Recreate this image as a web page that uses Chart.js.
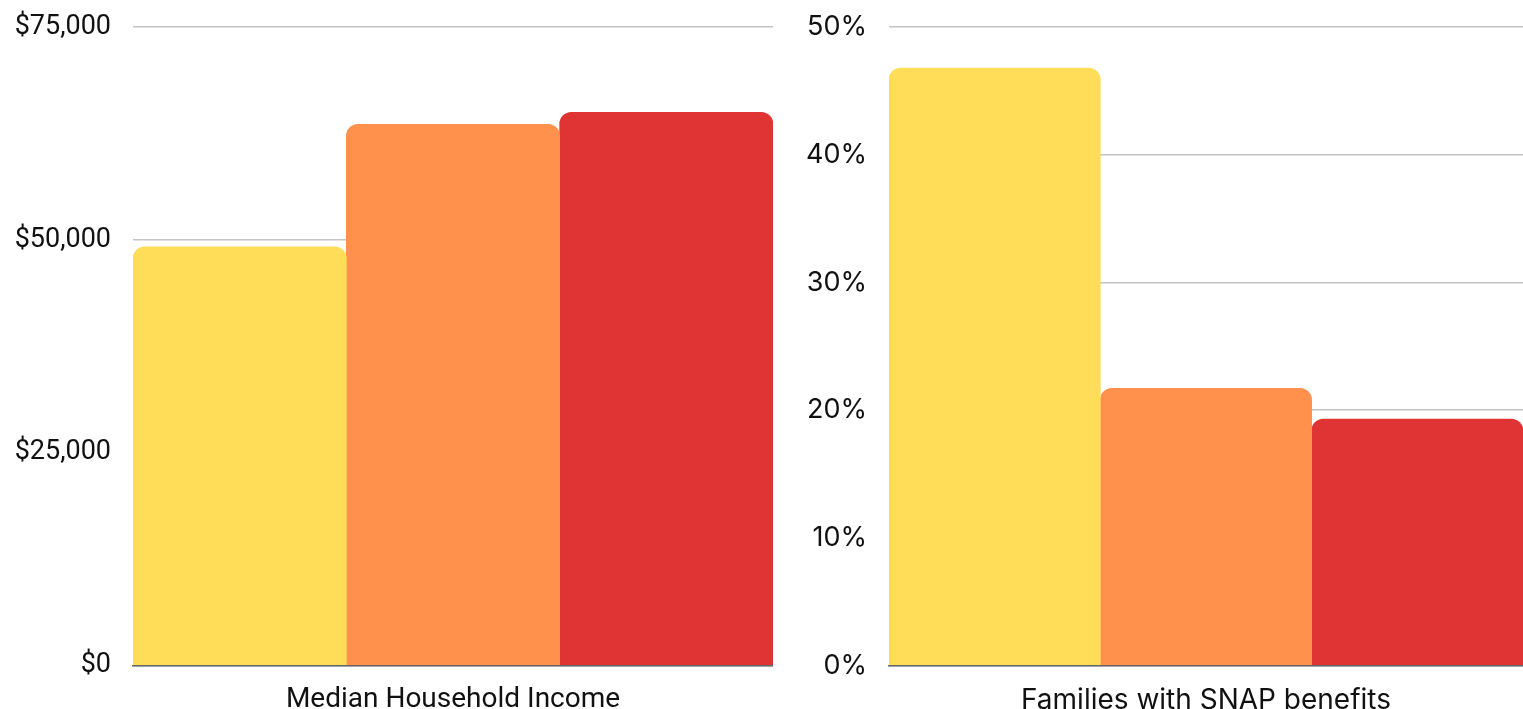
<!DOCTYPE html>
<html>
<head>
<meta charset="utf-8">
<script src="https://cdn.jsdelivr.net/npm/chart.js@4/dist/chart.umd.min.js"></script>
<style>
  html, body { margin: 0; padding: 0; background: #fff; overflow: hidden; width: 1523px; height: 709px; }
  .box { position: absolute; top: -11px; height: 738px; }
  #leftBox { left: 0; width: 773px; }
  #rightBox { left: 775px; width: 748px; }
</style>
</head>
<body>
<div class="box" id="leftBox"><canvas id="incomeChart"></canvas></div>
<div class="box" id="rightBox"><canvas id="snapChart"></canvas></div>
<script>
const incomeCategories = ["Median Household Income"];
const snapCategories = ["Families with SNAP benefits"];
const groupNames = ["Area 1", "Area 2", "Area 3"];
const groupColors = ["#FFDD59", "#FF914D", "#E03434"];
const incomeValues = [49200, 63600, 65000];
const snapValues = [46.8, 21.7, 19.3];
const incomeTicks = [0, 25000, 50000, 75000];
const snapTicks = [0, 10, 20, 30, 40, 50];

function makeDatasets(values) {
    return values.map((v, i) => ({
        label: groupNames[i],
        data: [v],
        backgroundColor: groupColors[i],
        borderWidth: 0,
        borderSkipped: 'bottom',
        borderRadius: { topLeft: 12, topRight: 12, bottomLeft: 0, bottomRight: 0 },
        barPercentage: 1,
        categoryPercentage: 1
    }));
}

function makeChart(id, labels, values, ticks, fmt, family, axisWidth) {
    const ctx = document.getElementById(id).getContext('2d');
    return new Chart(ctx, {
        type: 'bar',
        data: { labels: labels, datasets: makeDatasets(values) },
        options: {
            responsive: true,
            maintainAspectRatio: false,
            animation: false,
            layout: { padding: 0 },
            plugins: { legend: { display: false }, tooltip: { enabled: false } },
            scales: {
                x: {
                    grid: { display: false },
                    border: { display: true, color: '#666666', width: 1.5 },
                    ticks: { color: '#111111', padding: 10, font: { family: family, size: 28 } }
                },
                y: {
                    min: ticks[0],
                    max: ticks[ticks.length - 1],
                    afterBuildTicks: (axis) => { axis.ticks = ticks.map(v => ({ value: v })); },
                    afterFit: (axis) => { axis.width = axisWidth; },
                    grid: { color: '#c4c4c4', lineWidth: 1.5, drawTicks: false },
                    border: { display: false },
                    ticks: {
                        color: '#111111',
                        padding: 22,
                        font: { family: family, size: 27 },
                        callback: fmt
                    }
                }
            }
        }
    });
}

makeChart('incomeChart', incomeCategories, incomeValues, incomeTicks,
    (v) => '$' + v.toLocaleString('en-US'), 'Roboto', 133);
makeChart('snapChart', snapCategories, snapValues, snapTicks,
    (v) => v + '%', 'Inter', 114);
</script>
</body>
</html>
